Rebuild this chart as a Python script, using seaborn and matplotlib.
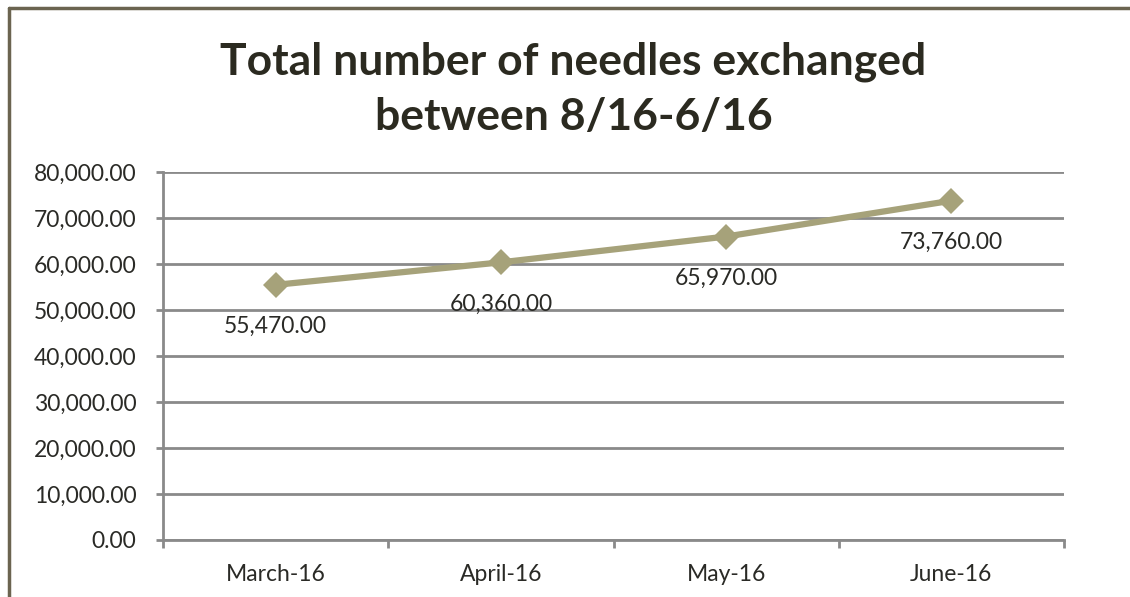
import matplotlib
matplotlib.use("Agg")
import matplotlib.pyplot as plt
import seaborn as sns
import pandas as pd
from matplotlib.lines import Line2D
from matplotlib.ticker import FuncFormatter

# Dati del grafico
months = ["March-16", "April-16", "May-16", "June-16"]
needles = [55470, 60360, 65970, 73760]
y_ticks = [0, 10000, 20000, 30000, 40000, 50000, 60000, 70000, 80000]

df = pd.DataFrame({"month": months, "needles": needles})

sns.set_style("white")
plt.rcParams["font.family"] = ["Lato", "DejaVu Sans"]

line_color = "#a6a27a"
grid_color = "#8a8a8a"
text_color = "#2a2a26"

fig = plt.figure(figsize=(11.3, 5.97), dpi=100)
ax = fig.add_axes([163 / 1130, 1 - 540 / 597, (1064 - 163) / 1130, (540 - 172) / 597])

x_pos = list(range(len(months)))
sns.lineplot(x=x_pos, y=df["needles"], ax=ax, color=line_color, linewidth=4.5,
             marker="D", markersize=13, markeredgewidth=0, markerfacecolor=line_color)

# Etichette dei valori sotto ai punti
for x, v in zip(x_pos, needles):
    ax.annotate(f"{v:,.2f}", (x, v), xytext=(0, -30), textcoords="offset points",
                ha="center", va="center", fontsize=16.5, color=text_color)

ax.set_xlim(-0.5, len(months) - 0.5)
ax.set_ylim(0, 80000)
ax.set_yticks(y_ticks)
ax.yaxis.set_major_formatter(FuncFormatter(lambda v, p: f"{v:,.2f}"))
ax.set_xticks(x_pos)
ax.set_xticklabels(months)
ax.set_xticks([i - 0.5 for i in range(len(months) + 1)], minor=True)
ax.set_xlabel("")
ax.set_ylabel("")

ax.grid(axis="y", color=grid_color, linewidth=2)
ax.set_axisbelow(True)
for s in ["top", "right"]:
    ax.spines[s].set_visible(False)
for s in ["left", "bottom"]:
    ax.spines[s].set_color(grid_color)
    ax.spines[s].set_linewidth(2)

ax.tick_params(axis="y", length=5, width=2, color=grid_color, pad=14,
               labelsize=16.5, labelcolor=text_color, left=True)
ax.tick_params(axis="x", which="major", length=0, pad=17, labelsize=16.5, labelcolor=text_color)
ax.tick_params(axis="x", which="minor", length=6, width=2, color=grid_color, bottom=True)

# Titolo su due righe
fig.text(0.5075, 1 - 89 / 597, "Total number of needles exchanged\nbetween 8/16-6/16",
         ha="center", va="center", fontsize=32, fontweight="bold", color="#2b2a20",
         linespacing=1.45)

# Bordo del riquadro (sinistra e sopra)
border = "#6b6450"
fig.add_artist(Line2D([8.5 / 1130, 8.5 / 1130], [0, 1 - 8 / 597], color=border, linewidth=2.5,
                      transform=fig.transFigure))
fig.add_artist(Line2D([8.5 / 1130, 1], [1 - 8 / 597, 1 - 8 / 597], color=border, linewidth=2.5,
                      transform=fig.transFigure))

fig.savefig("out.png", dpi=100)
